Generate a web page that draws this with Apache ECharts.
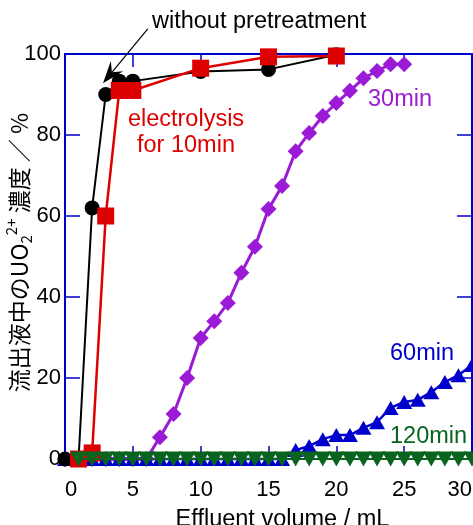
<!DOCTYPE html>
<html><head><meta charset="utf-8">
<script src="https://cdn.jsdelivr.net/npm/echarts@6/dist/echarts.min.js"></script>
<style>html,body{margin:0;padding:0;background:#fff}#c{width:473px;height:525px}</style>
</head><body><div id="c"></div>
<script>
// ---- data ----
const xTicks = [0, 5, 10, 15, 20, 25, 30];
const yTicks = [0, 20, 40, 60, 80, 100];

const noPreX = [0, 1, 2, 3, 4, 5, 10, 15, 20];
const noPreY = [0, 0, 62, 90, 93.3, 93.3, 95.7, 96.2, 99.8];

const el10X = [1, 2, 3, 4, 5, 10, 15, 20];
const el10Y = [0, 1.5, 60, 91, 91, 96.5, 99.3, 99.5];

const el30X = [0, 1, 2, 3, 4, 5, 6, 7, 8, 9, 10, 11, 12, 13, 14, 15, 16, 17, 18, 19, 20, 21, 22, 23, 24, 25];
const el30Y = [0, 0, 0, 0, 0, 0, 0, 5.4, 11.1, 20, 29.9, 34, 38.5, 46, 52.4, 61.7, 67.4, 76, 80.5, 84.7, 87.9, 90.9, 94, 95.8, 97.5, 97.5];

const el60X = [0, 1, 2, 3, 4, 5, 6, 7, 8, 9, 10, 11, 12, 13, 14, 15, 16, 17, 18, 19, 20, 21, 22, 23, 24, 25, 26, 27, 28, 29, 30];
const el60Y = [0, 0, 0, 0, 0, 0, 0, 0, 0, 0, 0, 0, 0, 0, 0, 0, 0, 2.2, 3.2, 4.9, 5.9, 5.9, 7.7, 9.1, 12.6, 14.1, 14.6, 16.5, 19, 20.7, 23.2];

const el120X = [1, 2, 3, 4, 5, 6, 7, 8, 9, 10, 11, 12, 13, 14, 15, 16, 17, 18, 19, 20, 21, 22, 23, 24, 25, 26, 27, 28, 29, 30];
const el120Y = [0, 0, 0, 0, 0, 0, 0, 0, 0, 0, 0, 0, 0, 0, 0, 0, 0, 0, 0, 0, 0, 0, 0, 0, 0, 0, 0, 0, 0, 0];

const arrowFrom = [6.1, 106.2];
const arrowTo = [2.8, 92.8];

// ---- chart ----
const pairs = (xs, ys) => xs.map((x, i) => [x, ys[i]]);
const FRAME = '#0000cc';
const LAT = '"Liberation Sans", Arial, sans-serif';
const CJK = '"Noto Sans CJK JP", sans-serif';

const chart = echarts.init(document.getElementById('c'), null, { renderer: 'canvas' });

function xAx(pos, show) {
  return {
    type: 'value', position: pos, min: xTicks[0], max: xTicks[xTicks.length - 1], interval: 5,
    axisLine: { show: true, onZero: false, lineStyle: { color: FRAME, width: 2 } },
    axisTick: { show: true, inside: true, length: 13, lineStyle: { color: FRAME, width: 1.5 } },
    splitLine: { show: false },
    axisLabel: show ? { show: true, color: '#000', fontSize: 22, fontFamily: LAT, margin: 20,
      alignMinLabel: 'left', alignMaxLabel: 'right' } : { show: false },
    name: show ? 'Effluent volume / mL' : '',
    nameLocation: 'middle', nameGap: 49, nameMoveOverlap: false,
    nameTextStyle: { color: '#000', fontSize: 23.5, fontFamily: LAT, padding: [0, 0, 0, 28] }
  };
}
function yAx(pos, show) {
  return {
    type: 'value', position: pos, min: yTicks[0], max: yTicks[yTicks.length - 1], interval: 20,
    axisLine: { show: true, onZero: false, lineStyle: { color: FRAME, width: 2 } },
    axisTick: { show: true, inside: true, length: 15, lineStyle: { color: FRAME, width: 1.5 } },
    splitLine: { show: false },
    axisLabel: show ? { show: true, color: '#000', fontSize: 22, fontFamily: LAT, margin: 4 } : { show: false },
    name: show ? '流出液中のUO{s|2}{p|2+} 濃度 ／ %' : '',
    nameLocation: 'middle', nameGap: 31, nameRotate: 90, nameMoveOverlap: false,
    nameTextStyle: { color: '#000', fontSize: 23, fontFamily: CJK, padding: [0, 0, 0, 8],
      rich: {
        s: { fontSize: 15, color: '#000', fontFamily: CJK, verticalAlign: 'bottom', lineHeight: 30 },
        p: { fontSize: 15, color: '#000', fontFamily: CJK, verticalAlign: 'top', lineHeight: 30 }
      } }
  };
}

function ser(name, xs, ys, color, symbol, size, lw, z, rot) {
  return {
    name, type: 'line', data: pairs(xs, ys), symbol, symbolSize: size, symbolRotate: rot || 0,
    showSymbol: true, clip: false, z,
    lineStyle: { color, width: lw }, itemStyle: { color, borderWidth: 0 },
    emphasis: { disabled: true }, animation: false
  };
}

chart.setOption({
  animation: false,
  backgroundColor: '#fff',
  grid: { left: 65, right: 1, top: 54, bottom: 66, containLabel: false, outerBoundsMode: 'none' },
  xAxis: [xAx('bottom', true), xAx('top', false)],
  yAxis: [yAx('left', true), yAx('right', false)],
  series: [
    ser('30min', el30X, el30Y, '#9a1ad6', 'diamond', 16, 3, 1),
    ser('60min', el60X, el60Y, '#0000cc', 'triangle', [16, 14], 2.5, 2),
    ser('without pretreatment', noPreX, noPreY, '#000000', 'circle', 15, 2, 3),
    ser('electrolysis for 10min', el10X, el10Y, '#dd0000', 'rect', 17, 2.5, 4),
    ser('120min', el120X, el120Y, '#0a6420', 'triangle', [17, 15], 2, 5, 180)
  ]
});

const p0 = chart.convertToPixel({ gridIndex: 0 }, arrowFrom);
const p1 = chart.convertToPixel({ gridIndex: 0 }, arrowTo);
const dx = p1[0] - p0[0], dy = p1[1] - p0[1];
const L = Math.hypot(dx, dy), ux = dx / L, uy = dy / L, nx = -uy, ny = ux;
const hl = 22, hw = 8, notch = 14;
const head = [
  [p1[0], p1[1]],
  [p1[0] - ux * hl + nx * hw, p1[1] - uy * hl + ny * hw],
  [p1[0] - ux * notch, p1[1] - uy * notch],
  [p1[0] - ux * hl - nx * hw, p1[1] - uy * hl - ny * hw]
];

const txt = (x, y, text, color, align) => ({
  type: 'text', x, y, z: 100,
  style: { text, fill: color, font: '23.5px "Liberation Sans", Arial, sans-serif', align: align || 'left', verticalAlign: 'middle', lineHeight: 26 }
});

chart.setOption({
  graphic: [
    { type: 'line', z: 100, shape: { x1: p0[0], y1: p0[1], x2: p1[0] - ux * notch, y2: p1[1] - uy * notch }, style: { stroke: '#000', lineWidth: 1.2 } },
    { type: 'polygon', z: 100, shape: { points: head }, style: { fill: '#000' } },
    txt(152, 22, 'without pretreatment', '#000'),
    txt(186, 133, 'electrolysis\nfor 10min', '#dd0000', 'center'),
    txt(368, 100, '30min', '#9a1ad6'),
    txt(390, 354, '60min', '#0000cc'),
    txt(390, 437, '120min', '#0a6420')
  ]
});
</script></body></html>
